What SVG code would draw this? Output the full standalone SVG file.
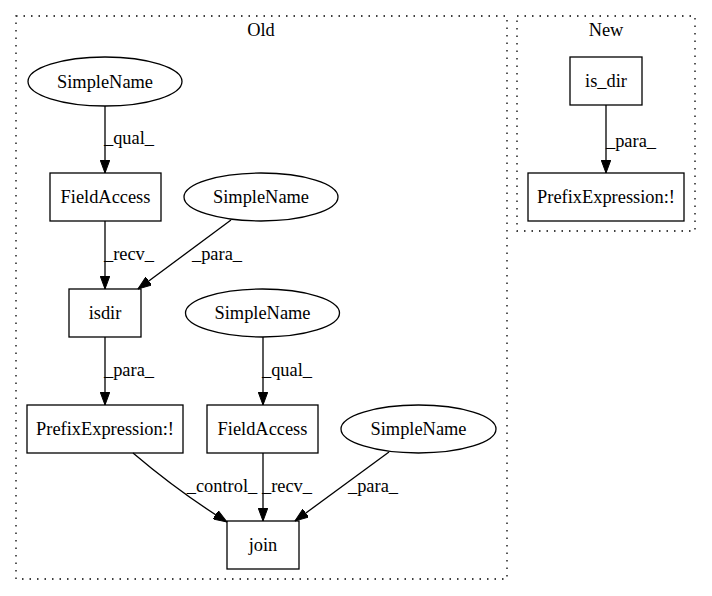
<svg xmlns="http://www.w3.org/2000/svg" width="712" height="596" viewBox="0 0 712 596">
<defs>
<marker id="ah" markerWidth="14" markerHeight="10" refX="13.5" refY="5" orient="auto" markerUnits="userSpaceOnUse">
<path d="M0,0 L13.5,5 L0,10 z" fill="#000" stroke="#000" stroke-width="1"/>
</marker>
<style>
text{font-family:"Liberation Serif","Times New Roman",serif;font-size:18.4px;fill:#000;text-anchor:middle}
.n{fill:none;stroke:#000;stroke-width:1.3}
.c{fill:none;stroke:#000;stroke-width:1.3;stroke-dasharray:1.5,6}
.e{fill:none;stroke:#000;stroke-width:1.3;marker-end:url(#ah)}
</style>
</defs>
<rect width="712" height="596" fill="#fff"/>
<g id="cluster_old">
<rect class="c" x="16" y="16" width="491" height="563"/>
<text x="261" y="36">Old</text>
</g>
<g id="cluster_new">
<rect class="c" x="517" y="16" width="178" height="215"/>
<text x="606" y="36">New</text>
</g>
<g id="edges">
<path class="e" d="M105,106 L105,173"/>
<text x="129" y="144">_qual_</text>
<path class="e" d="M105,221 L105,289"/>
<text x="129" y="260">_recv_</text>
<path class="e" d="M231,220 L138,289"/>
<text x="217" y="260">_para_</text>
<path class="e" d="M105,337 L105,405"/>
<text x="129" y="376">_para_</text>
<path class="e" d="M263,337 L263,405"/>
<text x="287" y="376">_qual_</text>
<path class="e" d="M133,453 C160,476 195,502 227,522"/>
<text x="222" y="492">_control_</text>
<path class="e" d="M263,453 L263,521"/>
<text x="287" y="492">_recv_</text>
<path class="e" d="M389,452 L295,521"/>
<text x="373" y="492">_para_</text>
<path class="e" d="M606,105 L606,173"/>
<text x="631" y="147">_para_</text>
</g>
<g id="n_sn1"><ellipse class="n" cx="105" cy="81.5" rx="77" ry="24.5"/><text x="105" y="87.5">SimpleName</text></g>
<g id="n_fa1"><rect class="n" x="50" y="173" width="111" height="48"/><text x="105.5" y="203">FieldAccess</text></g>
<g id="n_sn2"><ellipse class="n" cx="261" cy="197" rx="77" ry="24"/><text x="261" y="203">SimpleName</text></g>
<g id="n_isdir"><rect class="n" x="69" y="289" width="72" height="48"/><text x="105" y="319">isdir</text></g>
<g id="n_sn3"><ellipse class="n" cx="262.5" cy="313" rx="77" ry="24"/><text x="262.5" y="319">SimpleName</text></g>
<g id="n_pe1"><rect class="n" x="27" y="405" width="156" height="48"/><text x="105" y="435">PrefixExpression:!</text></g>
<g id="n_fa2"><rect class="n" x="207" y="405" width="111" height="48"/><text x="262.5" y="435">FieldAccess</text></g>
<g id="n_sn4"><ellipse class="n" cx="418.5" cy="429" rx="77.5" ry="24"/><text x="418.5" y="435">SimpleName</text></g>
<g id="n_join"><rect class="n" x="227" y="521" width="72" height="48"/><text x="263" y="551">join</text></g>
<g id="n_is_dir"><rect class="n" x="570" y="57" width="72" height="48"/><text x="606" y="87">is_dir</text></g>
<g id="n_pe2"><rect class="n" x="528" y="173" width="156" height="48"/><text x="606" y="203">PrefixExpression:!</text></g>
</svg>
